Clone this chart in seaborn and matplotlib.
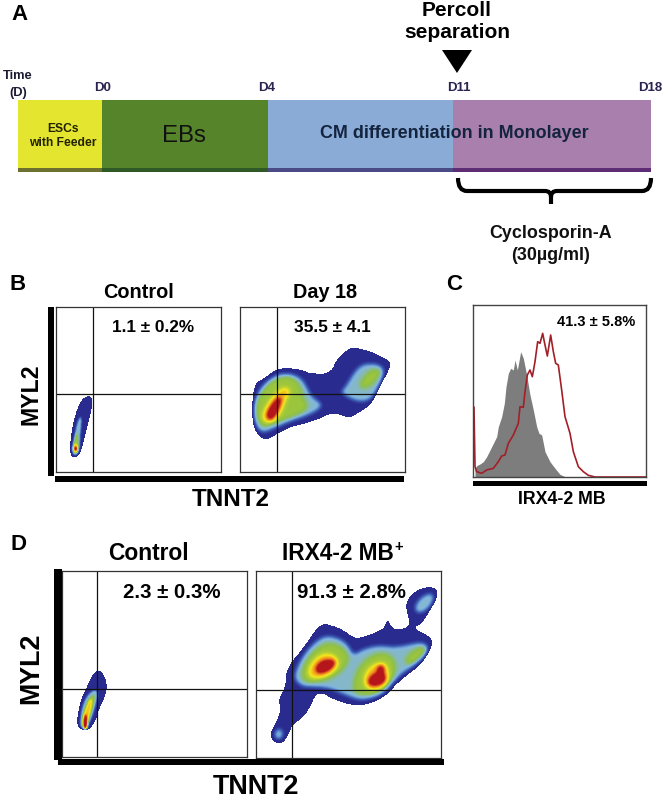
import numpy as np
import pandas as pd
import seaborn as sns
import matplotlib.pyplot as plt
from matplotlib.colors import LinearSegmentedColormap
from matplotlib.patches import Rectangle, Polygon, PathPatch
from matplotlib.path import Path

sns.set_style("white")
plt.rcParams['font.family'] = ['Liberation Sans', 'DejaVu Sans']

W, H = 664, 800

# timeline
stage_len = [84, 166, 185, 198]
stage_cols = ["#E4E52E", "#56842A", "#8AABD6", "#A97FAE"]
stage_dark = ["#6E7030", "#2F5A26", "#4A4A86", "#5E2C74"]
day_labels = ["D0", "D4", "D11", "D18"]

day18_origin = (245, 340)
day18_outer = [(28,140),(35,125),(60,112),(85,92),(105,85),(130,83),(175,90),(190,98),(215,100),(235,102),(262,88),(270,65),(290,40),(320,20),(345,25),(380,35),(415,52),(437,65),(433,85),(415,120),(395,160),(375,195),(345,215),(310,235),(285,222),(255,220),(225,235),(180,250),(130,262),(90,285),(60,300),(38,285),(25,260),(20,220),(22,170)]
day18_light = [[(32,165),(60,125),(100,100),(140,100),(170,115),(185,140),(200,170),(230,190),(225,205),(190,225),(130,245),(85,265),(50,280),(30,255),(25,210)],
               [(300,140),(330,90),(355,70),(395,70),(418,85),(412,115),(395,150),(375,180),(340,185),(305,170),(285,155)]]
day18_green = [[(28,190),(50,150),(85,115),(130,105),(155,120),(170,145),(175,170),(190,195),(180,215),(130,235),(80,255),(50,262),(30,235)],
               [(340,130),(365,95),(390,82),(408,92),(400,115),(375,140),(350,148)]]
day18_yellow = [[(55,215),(75,180),(100,150),(125,140),(135,155),(120,180),(110,210),(90,240),(65,248),(52,235)]]
day18_red = [[(63,220),(80,190),(100,170),(110,170),(105,195),(95,220),(80,240),(68,238)]]

irx_origin = (265, 585)
irx_outer = [(16,440),(25,425),(42,390),(45,365),(40,345),(50,325),(62,295),(62,265),(75,235),(100,205),(130,165),(155,128),(175,115),(205,122),(235,135),(255,150),(275,160),(310,150),(345,135),(358,125),(368,100),(378,125),(395,135),(430,125),(432,105),(422,70),(425,45),(445,22),(470,8),(500,5),(517,15),(515,40),(495,75),(470,115),(445,127),(470,142),(495,155),(502,175),(490,205),(465,240),(425,270),(390,300),(370,325),(330,350),(285,362),(240,355),(200,340),(170,322),(150,330),(135,365),(115,395),(80,420),(72,445),(55,472),(35,474),(18,462)]
irx_light = [[(85,280),(95,245),(120,200),(155,165),(185,150),(225,160),(250,180),(265,210),(295,190),(340,180),(385,185),(420,180),(465,170),(490,180),(485,205),(450,240),(410,265),(385,290),(355,325),(320,340),(280,345),(230,325),(195,310),(150,305),(110,305)],
             [(448,62),(468,35),(495,22),(508,35),(495,65),(472,82),(452,82)],
             [(25,447),(38,428),(54,437),(52,458),(35,464)]]
irx_green = [[(105,265),(120,225),(150,190),(185,170),(225,178),(250,205),(250,235),(225,265),(190,285),(140,295),(115,290)],
             [(262,300),(270,260),(295,225),(335,200),(375,205),(395,235),(390,270),(365,310),(325,330),(285,330),(265,320)],
             [(415,225),(435,200),(465,182),(483,188),(478,208),(450,232),(425,240)]]
irx_yellow = [[(130,250),(150,220),(175,205),(205,208),(222,230),(210,255),(180,275),(145,280),(130,270)],
              [(295,285),(305,255),(330,235),(360,232),(372,265),(365,295),(335,315),(305,310)]]
irx_red = [[(150,245),(170,225),(200,222),(213,232),(195,255),(170,265),(152,262)],
           [(308,285),(320,268),(337,262),(335,245),(350,238),(358,250),(355,265),(365,280),(350,298),(325,303),(310,298)]]

ctrl_b_origin = (60, 385)
ctrl_b_outer = [(45,88),(60,48),(78,32),(95,33),(97,60),(85,110),(70,170),(60,205),(45,218),(32,212),(28,190),(35,130)]
ctrl_b_light = [[(40,170),(48,120),(60,90),(65,105),(60,150),(58,195),(48,212),(35,205)]]
ctrl_b_green = [[(38,175),(47,135),(55,160),(55,195),(45,208),(35,198)]]
ctrl_b_yellow = [[(38,185),(46,172),(54,185),(52,202),(40,202)]]
ctrl_b_red = [[(41,186),(49,183),(52,192),(45,199)]]

ctrl_d_origin = (70, 660)
ctrl_d_outer = [(50,80),(65,45),(85,28),(100,40),(110,70),(108,100),(85,150),(75,185),(55,210),(35,210),(20,195),(22,160),(35,110)]
ctrl_d_light = [[(30,180),(35,140),(50,105),(75,85),(85,100),(75,140),(60,185),(45,205),(30,200)]]
ctrl_d_green = [[(32,175),(50,125),(70,100),(75,115),(65,155),(52,190),(40,200)]]
ctrl_d_yellow = [[(38,175),(52,130),(62,110),(65,130),(55,175),(45,195)]]
ctrl_d_red = [[(36,195),(46,150),(54,195),(45,212)]]

# histogram panel C, crop origin (470, 320), 3x
hist_origin = (470, 320)
grey_x = [15,20,30,40,50,60,70,80,85,95,103,108,115,122,130,135,142,152,160,170,180,190,200,207,215,225,240,255,270,285,300]
grey_y = [445,437,432,425,410,390,370,350,320,290,250,200,160,145,150,120,150,95,115,165,225,270,320,340,345,395,425,445,463,470,471]
red_x = [12,15,20,35,50,70,85,95,105,115,130,145,150,160,165,172,180,187,195,203,210,218,225,232,242,250,257,265,275,285,300,310,325,340,355,375,528]
red_y = [261,440,455,460,450,445,425,408,405,370,345,310,260,262,215,165,150,170,125,65,70,40,75,108,45,95,130,135,210,290,340,395,440,455,466,471,471]

flow_cmap = LinearSegmentedColormap.from_list("flow", [
    (0.0, "#2A2B8E"), (0.14, "#2A2B8E"), (0.28, "#3E62B8"), (0.42, "#82B6E0"),
    (0.56, "#8FC043"), (0.72, "#F4E61C"), (0.85, "#F08A1E"), (1.0, "#B5161B")])


def add_panel(x0, y0, x1, y1):
    ax = fig.add_axes([x0 / W, 1 - y1 / H, (x1 - x0) / W, (y1 - y0) / H])
    return ax


def smooth(pts, n=2):
    # corner cutting so the hand read outlines are not angular
    p = np.array(pts, dtype=float)
    for i in range(n):
        q = np.roll(p, -1, axis=0)
        p = np.column_stack([0.75 * p + 0.25 * q, 0.25 * p + 0.75 * q]).reshape(-1, 2)
    return p


def blur(a, sigma):
    r = int(3 * sigma) + 1
    k = np.exp(-0.5 * (np.arange(-r, r + 1) / sigma) ** 2)
    k = k / k.sum()
    a = np.apply_along_axis(lambda v: np.convolve(v, k, mode="same"), 0, a)
    a = np.apply_along_axis(lambda v: np.convolve(v, k, mode="same"), 1, a)
    return a


def density_grid(box, origin, outer, light, green, yellow, red, sigma):
    x0, y0, x1, y1 = box
    nx, ny = (x1 - x0) * 2, (y1 - y0) * 2
    xx, yy = np.meshgrid(x0 + (np.arange(nx) + 0.5) / 2, y0 + (np.arange(ny) + 0.5) / 2)
    pts = np.column_stack([xx.ravel(), yy.ravel()])
    grid = np.zeros((ny, nx))
    keep = None
    for polys, val in [([outer], 0.12), (light, 0.44), (green, 0.58), (yellow, 0.78), (red, 1.1)]:
        for poly in polys:
            v = smooth(poly) / 3 + np.array(origin)
            inside = Path(v).contains_points(pts).reshape(ny, nx)
            grid[inside] = val
            if keep is None:
                keep = inside
    grid = blur(grid, sigma * 2)
    return grid, ~keep


def flow_panel(box, gate_x, gate_y, origin, outer, light, green, yellow, red, sigma=2.2):
    ax = add_panel(*box)
    grid, mask = density_grid(box, origin, outer, light, green, yellow, red, sigma)
    sns.heatmap(grid, mask=mask, ax=ax, cmap=flow_cmap, vmin=0, vmax=1, cbar=False,
                xticklabels=False, yticklabels=False)
    ax.axvline((gate_x - box[0]) * 2, color="#111111", lw=0.9)
    ax.axhline((gate_y - box[1]) * 2, color="#111111", lw=0.9)
    for s in ax.spines.values():
        s.set_visible(True)
        s.set_color("#333333")
        s.set_linewidth(0.9)
    return ax


fig = plt.figure(figsize=(W / 100, H / 100), dpi=100)

# A - timeline
ax_a = add_panel(18, 100, 651, 172)
lefts = np.concatenate([[0], np.cumsum(stage_len)[:-1]])
ax_a.barh(0.5, stage_len, left=lefts, height=1, color=stage_cols, linewidth=0)
ax_a.barh(0.03, stage_len, left=lefts, height=0.06, color=stage_dark, linewidth=0)
ax_a.set_xlim(0, sum(stage_len))
ax_a.set_ylim(0, 1)
ax_a.axis("off")

# B, D - density plots
flow_panel((56, 307, 221, 472), 93, 394, ctrl_b_origin, ctrl_b_outer, ctrl_b_light,
           ctrl_b_green, ctrl_b_yellow, ctrl_b_red, sigma=1.0)
flow_panel((240, 307, 405, 472), 277, 394, day18_origin, day18_outer, day18_light,
           day18_green, day18_yellow, day18_red)
flow_panel((62, 571, 247, 757), 97, 689, ctrl_d_origin, ctrl_d_outer, ctrl_d_light,
           ctrl_d_green, ctrl_d_yellow, ctrl_d_red, sigma=1.2)
flow_panel((256, 571, 441, 758), 292, 690, irx_origin, irx_outer, irx_light,
           irx_green, irx_yellow, irx_red)

# C - histogram
ax_c = add_panel(473, 305, 646, 477)
hx = hist_origin[0] + np.array(grey_x) / 3
hy = hist_origin[1] + np.array(grey_y) / 3
rx = hist_origin[0] + np.array(red_x) / 3
ry = hist_origin[1] + np.array(red_y) / 3
ax_c.fill_between(hx, 477 - hy, 0, color="#7D7D7D", linewidth=0)
hist_red = pd.DataFrame({"x": rx, "y": 477 - ry})
sns.lineplot(data=hist_red, x="x", y="y", ax=ax_c, color="#A31F28", lw=1.2,
             estimator=None, sort=False)
ax_c.set_xlim(473, 646)
ax_c.set_ylim(0, 172)
ax_c.set(xlabel="", ylabel="", xticks=[], yticks=[])
for s in ax_c.spines.values():
    s.set_visible(True)
    s.set_color("#444444")
    s.set_linewidth(1.0)

# overlay for labels and the thick axis bars
ov = fig.add_axes([0, 0, 1, 1], zorder=10)
ov.set_xlim(0, W)
ov.set_ylim(H, 0)
ov.axis("off")
ov.patch.set_alpha(0)

for x0, y0, x1, y1 in [(48, 307, 54, 476), (55, 476, 404, 482), (473, 481, 647, 486),
                       (54, 569, 62, 760), (58, 759, 444, 765)]:
    ov.add_patch(Rectangle((x0, y0), x1 - x0, y1 - y0, color="black", lw=0))

ov.add_patch(Polygon([(442, 50), (472, 50), (457, 73)], closed=True, color="black", lw=0))

bracket = Path([(458, 178), (458, 191), (467, 191), (545, 191), (551, 191), (551, 197), (551, 204),
                (551, 197), (551, 191), (557, 191), (642, 191), (651, 191), (651, 178)],
               [Path.MOVETO, Path.CURVE3, Path.CURVE3, Path.LINETO, Path.CURVE3, Path.CURVE3, Path.LINETO,
                Path.MOVETO, Path.CURVE3, Path.CURVE3, Path.LINETO, Path.CURVE3, Path.CURVE3])
ov.add_patch(PathPatch(bracket, fc="none", ec="black", lw=3))


def label(x, y, s, size, weight="bold", color="black", rotation=0):
    ov.text(x, y, s, fontsize=size, fontweight=weight, color=color, ha="center", va="center",
            rotation=rotation, linespacing=1.1)


label(20, 14, "A", 16)
label(18, 284, "B", 16)
label(454, 284, "C", 16)
label(18, 544, "D", 16)

label(457, 10, "Percoll", 15)
label(457, 33, "separation", 15)
label(18, 76, "Time", 9.3, color="#1c1c30")
label(18, 93, "(D)", 9.3, color="#1c1c30")
for x, s in zip([103, 267, 459, 650], day_labels):
    label(x, 88, s, 9.5, color="#2b2350")
label(63, 129, "ESCs", 8.7, color="#222200")
label(63, 143, "with Feeder", 8.7, color="#222200")
label(184, 136, "EBs", 17.3, weight="normal", color="#111111")
label(454, 133, "CM differentiation in Monolayer", 12.9, color="#14243f")
label(551, 233, "Cyclosporin-A", 12.9, color="#111111")
label(551, 256, "(30µg/ml)", 12.9, color="#111111")

label(138, 293, "Control", 14.3)
label(325, 293, "Day 18", 14.3)
label(153, 328, "1.1 ± 0.2%", 12.4)
label(332, 328, "35.5 ± 4.1", 12.4)
label(31, 394, "MYL2", 16.7, rotation=90)
label(231, 500, "TNNT2", 17.4)

label(596, 322, "41.3 ± 5.8%", 10.5)
label(562, 500, "IRX4-2 MB", 12.8)

label(148, 553, "Control", 16.4)
label(338, 553, "IRX4-2 MB", 16.3)
label(399, 547, "+", 10.5)
label(172, 592, "2.3 ± 0.3%", 14.7)
label(351, 592, "91.3 ± 2.8%", 14.7)
label(31, 668, "MYL2", 19.4, rotation=90)
label(256, 787, "TNNT2", 19.4)

fig.savefig("out.png", dpi=100)
